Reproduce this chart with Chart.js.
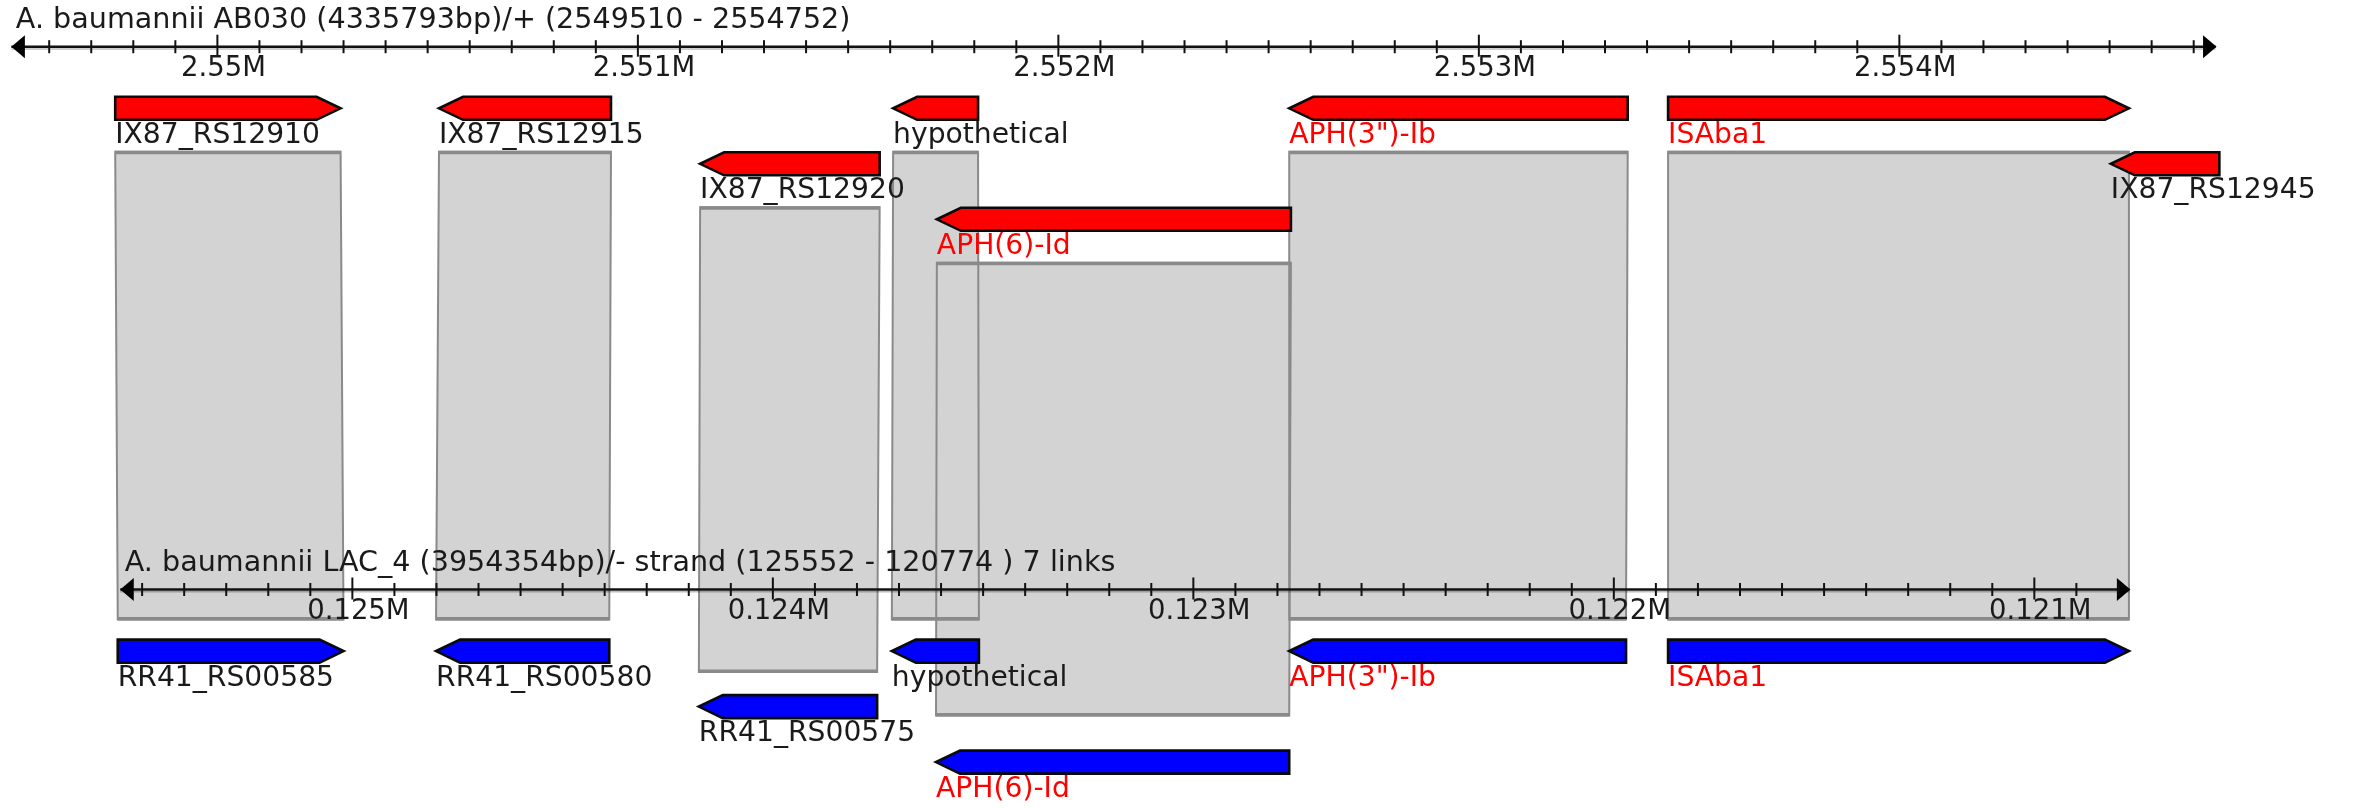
<!DOCTYPE html>
<html>
<head>
<meta charset="utf-8">
<title>AB030 vs LAC_4</title>
<script src="https://cdn.jsdelivr.net/npm/chart.js@4.4.0/dist/chart.umd.min.js"></script>
<style>
  html, body { margin: 0; padding: 0; background: #fff; overflow: hidden; }
  #wrap { width: 2356px; height: 808px; }
</style>
</head>
<body>
<div id="wrap"><canvas id="myChart" width="2356" height="808"></canvas></div>
<script>
// top genome (AB030, + strand)
const topTitle = 'A. baumannii AB030 (4335793bp)/+ (2549510 - 2554752)';
const topRange = [2549510, 2554752];
const topGenes = ['IX87_RS12910', 'IX87_RS12915', 'IX87_RS12920', 'hypothetical', 'APH(6)-Id', 'APH(3")-Ib', 'ISAba1', 'IX87_RS12945'];
const topStart = [2549757, 2550527, 2551148, 2551607, 2551711, 2552549, 2553450, 2554503];
const topEnd = [2550293, 2550936, 2551575, 2551809, 2552553, 2553354, 2554546, 2554761];
const topStrand = ['+', '-', '-', '-', '-', '-', '+', '-'];
const topLane = [0, 0, 1, 0, 2, 0, 0, 1];

// bottom genome (LAC_4, drawn as - strand so the axis runs backwards)
const bottomTitle = 'A. baumannii LAC_4 (3954354bp)/- strand (125552 - 120774 ) 7 links';
const bottomRange = [125552, 120774];
const bottomGenes = ['RR41_RS00585', 'RR41_RS00580', 'RR41_RS00575', 'hypothetical', 'APH(6)-Id', 'APH(3")-Ib', 'ISAba1'];
const bottomStart = [125021, 124389, 123752, 123510, 122772, 121971, 120775];
const bottomEnd = [125558, 124801, 124176, 123717, 123612, 122772, 121871];
const bottomStrand = ['-', '+', '+', '+', '+', '+', '-'];
const bottomLane = [0, 0, 1, 0, 2, 0, 0];

// genes whose label is shown in red
const redLabels = ['APH(6)-Id', 'APH(3")-Ib', 'ISAba1'];

// links: topGenes index -> bottomGenes index
const linkTop = [0, 1, 2, 3, 4, 5, 6];
const linkBottom = [0, 1, 2, 3, 4, 5, 6];

const majorStep = 1000;
const minorStep = 100;

// visible windows of the two rulers
const topView = [2549483, 2555086];
const bottomView = [120235, 125838];

const TITLE_FONT = '28.6px "DejaVu Sans", Verdana, sans-serif';
const TICK_FONT = '27.5px "DejaVu Sans", Verdana, sans-serif';
const LABEL_FONT = '28.2px "DejaVu Sans", Verdana, sans-serif';

function geneBox(scale, start, end, strand) {
    const a = scale.getPixelForValue(start);
    const b = scale.getPixelForValue(end);
    const head = strand == '+' ? b : a;
    const tail = strand == '+' ? a : b;
    return { left: Math.min(a, b), right: Math.max(a, b), head, tail };
}

function drawRuler(c, scale, y, range, title, o) {
    const xa = scale.getPixelForValue(range[0]);
    const xb = scale.getPixelForValue(range[1]);
    const x0 = Math.min(xa, xb), x1 = Math.max(xa, xb);

    c.fillStyle = o.textColor;
    c.font = TITLE_FONT;
    c.textAlign = 'left';
    c.textBaseline = 'alphabetic';
    c.fillText(title, x0 + 4.5, y - 18.4);

    // faint shadow under the ruler line
    c.strokeStyle = 'rgba(0,0,0,0.25)';
    c.lineWidth = 1.5;
    c.beginPath();
    c.moveTo(x0, y + 2.2);
    c.lineTo(x1, y + 2.2);
    c.stroke();

    c.strokeStyle = '#111';
    c.lineWidth = 2.4;
    c.beginPath();
    c.moveTo(x0, y);
    c.lineTo(x1, y);
    c.stroke();

    c.fillStyle = '#000';
    c.beginPath();
    c.moveTo(x0, y);
    c.lineTo(x0 + 13.5, y - 11.5);
    c.lineTo(x0 + 13.5, y + 11.5);
    c.closePath();
    c.fill();
    c.beginPath();
    c.moveTo(x1 + 1, y);
    c.lineTo(x1 - 12.5, y - 11.5);
    c.lineTo(x1 - 12.5, y + 11.5);
    c.closePath();
    c.fill();

    const lo = Math.min(range[0], range[1]);
    const hi = Math.max(range[0], range[1]);
    c.lineWidth = 2;
    c.strokeStyle = '#111';
    c.font = TICK_FONT;
    c.textAlign = 'center';
    for (let v = Math.ceil(lo / minorStep) * minorStep; v <= hi; v += minorStep) {
        const px = scale.getPixelForValue(v);
        const major = v % majorStep === 0;
        c.beginPath();
        c.moveTo(px, y - (major ? 12 : 6.5));
        c.lineTo(px, y + (major ? 10 : 6.5));
        c.stroke();
        if (major) {
            c.fillStyle = o.textColor;
            c.fillText((v / 1e6) + 'M', px + 6, y + 29.5);
        }
    }
}

function drawGene(c, g, cy, h, headLen, fill) {
    const dir = g.head > g.tail ? 1 : -1;
    let neck = g.head - dir * headLen;
    if ((neck - g.tail) * dir < 0) neck = g.tail;
    c.beginPath();
    c.moveTo(g.tail, cy - h / 2);
    c.lineTo(neck, cy - h / 2);
    c.lineTo(g.head, cy);
    c.lineTo(neck, cy + h / 2);
    c.lineTo(g.tail, cy + h / 2);
    c.closePath();
    c.fillStyle = fill;
    c.fill();
    c.lineWidth = 2.6;
    c.lineJoin = 'miter';
    c.strokeStyle = '#0a0a0a';
    c.stroke();
}

const tracksPlugin = {
    id: 'tracks',
    afterDraw(chart, args, o) {
        const c = chart.ctx;
        const xT = chart.scales.xTop;
        const xB = chart.scales.xBottom;
        const yS = chart.scales.y;
        const laneY = (axisY, lane) => yS.getPixelForValue(axisY + o.laneOffset + lane * o.laneStep);
        const h = o.geneHeight;

        const topBoxes = topGenes.map((n, i) => geneBox(xT, topStart[i], topEnd[i], topStrand[i]));
        const botBoxes = bottomGenes.map((n, i) => geneBox(xB, bottomStart[i], bottomEnd[i], bottomStrand[i]));

        c.save();

        // link shapes: fills first, borders afterwards so overlapping edges stay visible
        const polys = linkTop.map((ti, k) => {
            const bi = linkBottom[k];
            const t = topBoxes[ti], b = botBoxes[bi];
            const y0 = laneY(o.topAxis, topLane[ti]) + h / 2 + o.linkTopGap;
            const y1 = laneY(o.bottomAxis, bottomLane[bi]) - h / 2 - o.linkBottomGap[bottomLane[bi]];
            return [[t.left, y0], [t.right, y0], [b.right, y1], [b.left, y1]];
        });
        polys.forEach(p => {
            c.beginPath();
            p.forEach((pt, i) => i ? c.lineTo(pt[0], pt[1]) : c.moveTo(pt[0], pt[1]));
            c.closePath();
            c.fillStyle = o.linkFill;
            c.fill();
        });
        polys.forEach(p => {
            c.beginPath();
            p.forEach((pt, i) => i ? c.lineTo(pt[0], pt[1]) : c.moveTo(pt[0], pt[1]));
            c.closePath();
            c.lineWidth = 2;
            c.strokeStyle = o.linkBorder;
            c.stroke();
            c.lineWidth = 3.5;
            c.beginPath();
            c.moveTo(p[0][0], p[0][1] + 0.8);
            c.lineTo(p[1][0], p[1][1] + 0.8);
            c.moveTo(p[3][0], p[3][1] - 0.8);
            c.lineTo(p[2][0], p[2][1] - 0.8);
            c.stroke();
        });

        // rulers
        drawRuler(c, xT, yS.getPixelForValue(o.topAxis), topRange, topTitle, o);
        drawRuler(c, xB, yS.getPixelForValue(o.bottomAxis), bottomRange, bottomTitle, o);

        // genes and labels
        const drawSet = (names, boxes, lanes, axisY, fill) => {
            names.forEach((n, i) => {
                const cy = laneY(axisY, lanes[i]);
                drawGene(c, boxes[i], cy, h, o.headLen, fill);
            });
            c.font = LABEL_FONT;
            c.textAlign = 'left';
            c.textBaseline = 'alphabetic';
            names.forEach((n, i) => {
                const cy = laneY(axisY, lanes[i]);
                c.fillStyle = redLabels.includes(n) ? '#ff0000' : o.textColor;
                c.fillText(n, boxes[i].left, cy + h / 2 + o.labelGap);
            });
        };
        drawSet(topGenes, topBoxes, topLane, o.topAxis, '#ff0000');
        drawSet(bottomGenes, botBoxes, bottomLane, o.bottomAxis, '#0000ff');

        c.restore();
    }
};

const chart = new Chart(document.getElementById('myChart').getContext('2d'), {
    type: 'scatter',
    data: { datasets: [] },
    options: {
        responsive: false,
        animation: false,
        devicePixelRatio: 1,
        layout: { padding: 0 },
        plugins: {
            legend: { display: false },
            tooltip: { enabled: false },
            tracks: {
                topAxis: 46.7,
                bottomAxis: 589.5,
                laneOffset: 61.6,
                laneStep: 55.5,
                geneHeight: 23,
                headLen: 24,
                labelGap: 23,
                linkTopGap: 32,
                linkBottomGap: [20, 23, 35],
                linkFill: '#d3d3d3',
                linkBorder: '#8a8a8a',
                textColor: '#1a1a1a'
            }
        },
        scales: {
            xTop: { type: 'linear', axis: 'x', position: 'top', display: false, min: topView[0], max: topView[1] },
            xBottom: { type: 'linear', axis: 'x', position: 'bottom', display: false, reverse: true, min: bottomView[0], max: bottomView[1] },
            y: { type: 'linear', display: false, reverse: true, min: 0, max: 808 }
        }
    },
    plugins: [tracksPlugin]
});
</script>
</body>
</html>
